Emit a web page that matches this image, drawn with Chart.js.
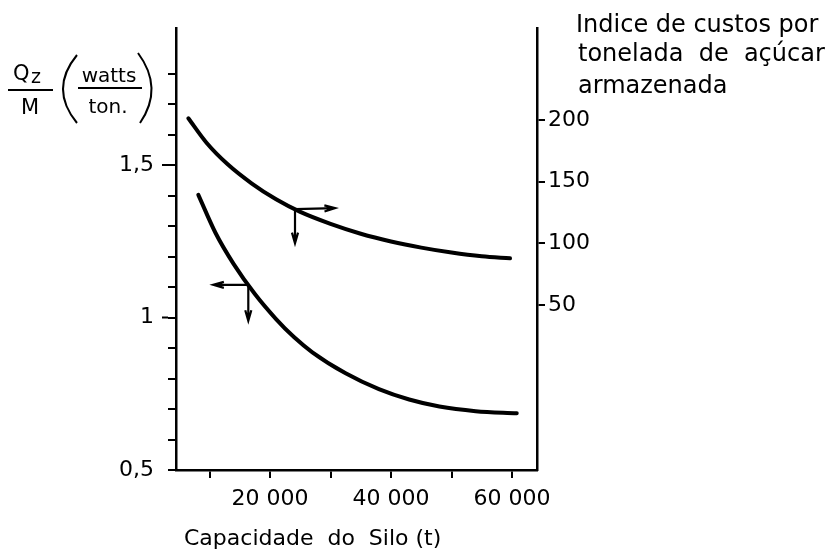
<!DOCTYPE html>
<html>
<head>
<meta charset="utf-8">
<script src="https://cdn.jsdelivr.net/npm/chart.js@4.4.1/dist/chart.umd.min.js"></script>
<style>
    html, body { margin: 0; padding: 0; background: #fff; }
    #wrap { position: relative; width: 827px; height: 553px; }
</style>
</head>
<body>
<div id="wrap"><canvas id="silo-chart"></canvas></div>
<script>
// Upper curve: cost index per ton of stored sugar (right axis)
const costCapacity = [6500, 9500, 13000, 17000, 21000, 25000, 30000, 35000, 40000, 45000, 50000, 55000, 59670];
const costIndex = [201.4, 181.6, 164.1, 148.5, 135.7, 125.5, 115.8, 107.8, 101.5, 96.5, 92.5, 89.5, 87.9];

// Lower curve: Qz/M in watts/ton (left axis)
const powerCapacity = [8150, 11000, 14000, 17500, 21000, 24000, 27000, 32500, 38000, 43000, 48000, 54000, 60780];
const powerPerTon = [1.402, 1.277, 1.175, 1.077, 0.995, 0.935, 0.886, 0.817, 0.765, 0.731, 0.708, 0.693, 0.686];

const xTicks = [10000, 20000, 30000, 40000, 50000, 60000];
const xLabelled = [20000, 40000, 60000];
const leftTicks = [0.5, 0.6, 0.7, 0.8, 0.9, 1, 1.1, 1.2, 1.3, 1.4, 1.5, 1.6, 1.7, 1.8];
const leftLabelled = [0.5, 1, 1.5];
const rightTicks = [50, 100, 150, 200];

// arrow anchors on each curve (they point to the axis the curve is read on)
const costArrow = { x: 24130, y: 127.7 };
const powerArrow = { x: 16410, y: 1.107 };

const FONT = '"DejaVu Sans", sans-serif';
const tickFont = { family: FONT, size: 22 };

const fmtThousands = (v) => {
    const s = String(v);
    return s.slice(0, s.length - 3) + ' ' + s.slice(-3);
};

function drawArrow(ctx, x1, y1, x2, y2) {
    const ang = Math.atan2(y2 - y1, x2 - x1);
    const head = 11;
    ctx.beginPath();
    ctx.moveTo(x1, y1);
    ctx.lineTo(x2, y2);
    ctx.moveTo(x2 - head * Math.cos(ang - 0.28), y2 - head * Math.sin(ang - 0.28));
    ctx.lineTo(x2, y2);
    ctx.lineTo(x2 - head * Math.cos(ang + 0.28), y2 - head * Math.sin(ang + 0.28));
    ctx.stroke();
}

const decorations = {
    id: 'decorations',
    afterDatasetsDraw(chart) {
        const ctx = chart.ctx;
        const { x, yLeft, yRight } = chart.scales;
        ctx.save();
        ctx.strokeStyle = '#000';
        ctx.lineWidth = 2.2;

        // cost curve -> right axis
        let px = x.getPixelForValue(costArrow.x);
        let py = yRight.getPixelForValue(costArrow.y);
        drawArrow(ctx, px, py, px + 40, py - 1);
        drawArrow(ctx, px, py, px, py + 34);

        // power curve -> left axis
        px = x.getPixelForValue(powerArrow.x);
        py = yLeft.getPixelForValue(powerArrow.y);
        drawArrow(ctx, px, py, px - 35, py);
        drawArrow(ctx, px, py, px, py + 36);

        // labelled ticks on the left axis are longer
        ctx.lineWidth = 2;
        ctx.beginPath();
        leftLabelled.forEach(v => {
            if (v === 0.5) return;
            const ty = yLeft.getPixelForValue(v);
            ctx.moveTo(yLeft.right - 8, ty);
            ctx.lineTo(yLeft.right - 14, ty);
        });
        ctx.stroke();
        ctx.restore();
    },
    afterDraw(chart) {
        const ctx = chart.ctx;
        ctx.save();
        ctx.fillStyle = '#000';
        ctx.strokeStyle = '#000';
        ctx.textBaseline = 'alphabetic';

        // left title: Qz/M (watts/ton.)
        ctx.font = '21px ' + FONT;
        ctx.textAlign = 'left';
        ctx.fillText('Q', 13, 80);
        ctx.font = '19px ' + FONT;
        ctx.fillText('z', 31, 83);
        ctx.font = '21px ' + FONT;
        ctx.textAlign = 'center';
        ctx.fillText('M', 30, 114);
        ctx.font = '20px ' + FONT;
        ctx.fillText('watts', 109, 82);
        ctx.fillText('ton.', 108, 113);
        ctx.lineWidth = 2;
        ctx.beginPath();
        ctx.moveTo(8, 90); ctx.lineTo(53, 90);
        ctx.moveTo(78, 88); ctx.lineTo(142, 88);
        ctx.stroke();
        ctx.beginPath();
        ctx.moveTo(77, 55); ctx.quadraticCurveTo(49, 89, 77, 123);
        ctx.moveTo(138, 53); ctx.quadraticCurveTo(164, 88, 140, 123);
        ctx.stroke();

        // right title
        ctx.font = '24px ' + FONT;
        ctx.textAlign = 'left';
        ctx.fillText('Indice de custos por', 576, 32);
        ctx.fillText('tonelada  de  açúcar', 578, 61);
        ctx.fillText('armazenada', 578, 93);

        // x title
        ctx.font = '22px ' + FONT;
        ctx.fillText('Capacidade  do  Silo (t)', 184, 545);
        ctx.restore();
    }
};

const config = {
    type: 'line',
    data: {
        datasets: [
            {
                label: 'Indice de custos',
                data: costCapacity.map((c, i) => ({ x: c, y: costIndex[i] })),
                yAxisID: 'yRight',
                borderColor: '#000',
                borderWidth: 4,
                pointRadius: 0,
                cubicInterpolationMode: 'monotone',
                borderCapStyle: 'round',
                fill: false
            },
            {
                label: 'Qz/M',
                data: powerCapacity.map((c, i) => ({ x: c, y: powerPerTon[i] })),
                yAxisID: 'yLeft',
                borderColor: '#000',
                borderWidth: 4,
                pointRadius: 0,
                cubicInterpolationMode: 'monotone',
                borderCapStyle: 'round',
                fill: false
            }
        ]
    },
    options: {
        responsive: true,
        maintainAspectRatio: false,
        animation: false,
        layout: { padding: { top: 28, left: 0, right: 0, bottom: 0 } },
        plugins: {
            legend: { display: false },
            tooltip: { enabled: false }
        },
        scales: {
            x: {
                type: 'linear',
                min: 4460,
                max: 64130,
                afterBuildTicks: (s) => { s.ticks = xTicks.map(v => ({ value: v })); },
                afterFit: (s) => { s.height = 83; },
                border: { display: true, color: '#000', width: 2.5 },
                grid: { display: true, drawOnChartArea: false, drawTicks: true, tickLength: 8, color: '#000', lineWidth: 2 },
                ticks: {
                    color: '#000',
                    font: tickFont,
                    padding: 8,
                    maxRotation: 0,
                    autoSkip: false,
                    callback: (v) => xLabelled.includes(v) ? fmtThousands(v) : ''
                }
            },
            yLeft: {
                type: 'linear',
                position: 'left',
                min: 0.5,
                max: 1.9492,
                afterBuildTicks: (s) => { s.ticks = leftTicks.map(v => ({ value: v })); },
                afterFit: (s) => { s.width = 176; },
                border: { display: true, color: '#000', width: 2.5 },
                grid: { display: true, drawOnChartArea: false, drawTicks: true, tickLength: 8, color: '#000', lineWidth: 2 },
                ticks: {
                    color: '#000',
                    font: tickFont,
                    padding: 14,
                    autoSkip: false,
                    callback: (v) => leftLabelled.some(l => Math.abs(l - v) < 1e-6) ? String(v).replace('.', ',') : ''
                }
            },
            yRight: {
                type: 'linear',
                position: 'right',
                min: -83.78,
                max: 274.6,
                afterBuildTicks: (s) => { s.ticks = rightTicks.map(v => ({ value: v })); },
                afterFit: (s) => { s.width = 290; },
                border: { display: true, color: '#000', width: 2.5 },
                grid: { display: true, drawOnChartArea: false, drawTicks: true, tickLength: 8, color: '#000', lineWidth: 2 },
                ticks: {
                    color: '#000',
                    font: tickFont,
                    padding: 3,
                    autoSkip: false
                }
            }
        }
    },
    plugins: [decorations]
};

new Chart(document.getElementById('silo-chart'), config);
</script>
</body>
</html>
